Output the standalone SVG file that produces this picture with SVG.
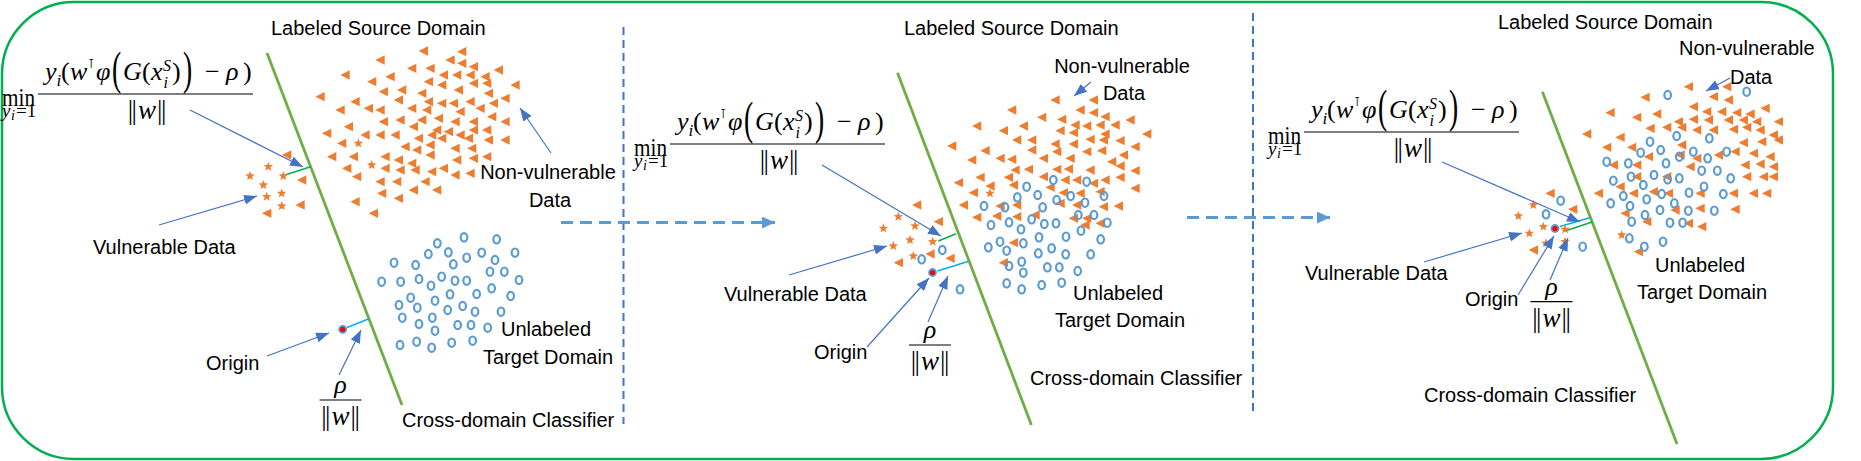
<svg xmlns="http://www.w3.org/2000/svg" xmlns:xlink="http://www.w3.org/1999/xlink" width="1861" height="461" viewBox="0 0 1861 461">
<style>
.lbl{font-family:"Liberation Sans",Arial,sans-serif;font-size:20px;fill:#000}
.m{font-family:"Liberation Serif","DejaVu Serif",serif;fill:#000}
.mi{font-family:"Liberation Serif","DejaVu Serif",serif;font-style:italic;fill:#000}
.clf{stroke:#70AD47;stroke-width:2.8;fill:none}
.gl{stroke:#00B050;stroke-width:1.5}
.cy{stroke:#00B0F0;stroke-width:1.5}
.org{fill:#FF0000;stroke:#5B9BD5;stroke-width:1.8}
.vd{stroke:#4472C4;stroke-width:2;stroke-dasharray:8 5;fill:none}
.da{stroke:#5B9BD5;stroke-width:3;stroke-dasharray:12 7;fill:none}
.ar{stroke:#4472C4;stroke-width:1.2;fill:none}
</style>
<defs>
<marker id="ah" markerWidth="13" markerHeight="10" refX="13" refY="5" orient="auto" markerUnits="userSpaceOnUse"><path d="M0,0 L13,5 L0,10 z" fill="#4472C4"/></marker>
<marker id="dh" markerWidth="13" markerHeight="12" refX="13" refY="6" orient="auto" markerUnits="userSpaceOnUse"><path d="M0,0 L13,6 L0,12 z" fill="#5B9BD5"/></marker>
<path id="t" d="M-14,0 L14,-14 L14,14 Z" fill="#ED7D31"/>
<path id="s" d="M0,-15 L3.7,-5.1 L14.3,-4.6 L6.1,2 L8.8,12.1 L0,6.4 L-8.8,12.1 L-6.1,2 L-14.3,-4.6 L-3.7,-5.1 Z" fill="#ED7D31"/>
<ellipse id="c" rx="10" ry="12.5" fill="none" stroke="#5B9BD5" stroke-width="6.5"/>
<g id="formula">
<text class="m" x="2" y="106" font-size="26" textLength="33" lengthAdjust="spacingAndGlyphs">min</text>
<text class="mi" x="2" y="117" font-size="19">y</text>
<text class="mi" x="11" y="120" font-size="14">i</text>
<text class="m" x="16" y="117" font-size="19">=1</text>
<text class="mi" x="45" y="80" font-size="26">y</text>
<text class="mi" x="56.5" y="86" font-size="17">i</text>
<text class="m" x="61" y="80" font-size="26">(</text>
<text class="mi" x="70" y="80" font-size="26">w</text>
<text x="88" y="68" font-size="13" font-family="DejaVu Sans, sans-serif">⊺</text>
<text class="mi" x="96" y="80" font-size="26">φ</text>
<text class="m" font-size="46" transform="translate(112 84) scale(0.6 1)">(</text>
<text class="mi" x="123" y="80" font-size="26">G</text>
<text class="m" x="142" y="80" font-size="26">(</text>
<text class="mi" x="151" y="80" font-size="26">x</text>
<text class="mi" x="163" y="71" font-size="16">S</text>
<text class="mi" x="163.5" y="88" font-size="16">i</text>
<text class="m" x="172" y="80" font-size="26">)</text>
<text class="m" font-size="46" transform="translate(183 84) scale(0.6 1)">)</text>
<text class="m" x="205" y="80" font-size="26">−</text>
<text class="mi" x="226" y="80" font-size="26">ρ</text>
<text class="m" x="243" y="80" font-size="26">)</text>
<line x1="38" y1="94" x2="253" y2="94" stroke="#000" stroke-width="1.2"/>
<text class="m" x="147" y="119" font-size="27" text-anchor="middle">|<tspan dx="-1.5">|</tspan><tspan class="mi" dx="1">w</tspan><tspan dx="1">|</tspan><tspan dx="-1.5">|</tspan></text>
</g>
<g id="rhofrac">
<text class="mi" x="0" y="-7" font-size="26" text-anchor="middle">ρ</text>
<line x1="-21" y1="0" x2="21" y2="0" stroke="#000" stroke-width="1.2"/>
<text class="m" x="0" y="25" font-size="27" text-anchor="middle">|<tspan dx="-1.5">|</tspan><tspan class="mi" dx="1">w</tspan><tspan dx="1">|</tspan><tspan dx="-1.5">|</tspan></text>
</g>
</defs>

<rect id="frame" x="2" y="2" width="1831" height="457" rx="72" ry="72" fill="#FFFFFF" stroke="#00B050" stroke-width="2.5"/>

<g id="separators">
<line class="vd" x1="623.5" y1="27" x2="623.5" y2="424"/>
<line class="vd" x1="1253" y1="13" x2="1253" y2="412"/>
</g>

<!-- Panel 1 -->
<g id="panel1">
<line id="p1-classifier" class="clf" x1="267" y1="53" x2="402" y2="405"/>
<line class="gl" x1="285" y1="175" x2="310.6" y2="166.7"/>
<line class="cy" x1="347" y1="327.5" x2="369" y2="318.7"/>
<g id="p1-source" transform="translate(240 50) scale(0.33333)">
<use href="#t" x="420" y="30"/><use href="#t" x="550" y="3"/><use href="#t" x="630" y="30"/><use href="#t" x="665" y="5"/><use href="#t" x="665" y="40"/>
<use href="#t" x="515" y="55"/><use href="#t" x="570" y="55"/><use href="#t" x="700" y="50"/><use href="#t" x="775" y="60"/><use href="#t" x="610" y="75"/><use href="#t" x="650" y="75"/><use href="#t" x="690" y="75"/><use href="#t" x="735" y="80"/>
<use href="#t" x="315" y="75"/><use href="#t" x="450" y="80"/><use href="#t" x="395" y="95"/><use href="#t" x="565" y="95"/><use href="#t" x="605" y="105"/><use href="#t" x="700" y="100"/><use href="#t" x="740" y="100"/><use href="#t" x="825" y="105"/>
<use href="#t" x="430" y="125"/><use href="#t" x="485" y="120"/><use href="#t" x="545" y="130"/><use href="#t" x="655" y="120"/><use href="#t" x="745" y="130"/>
<use href="#t" x="240" y="140"/><use href="#t" x="345" y="155"/><use href="#t" x="475" y="150"/><use href="#t" x="565" y="155"/><use href="#t" x="605" y="160"/><use href="#t" x="640" y="160"/><use href="#t" x="690" y="155"/><use href="#t" x="760" y="160"/><use href="#t" x="795" y="145"/>
<use href="#t" x="300" y="180"/><use href="#t" x="385" y="175"/><use href="#t" x="420" y="180"/><use href="#t" x="515" y="175"/><use href="#t" x="560" y="180"/><use href="#t" x="660" y="185"/><use href="#t" x="720" y="175"/><use href="#t" x="755" y="200"/>
<use href="#t" x="430" y="215"/><use href="#t" x="480" y="210"/><use href="#t" x="545" y="210"/><use href="#t" x="595" y="205"/><use href="#t" x="645" y="215"/><use href="#t" x="700" y="215"/><use href="#t" x="795" y="215"/>
<use href="#t" x="325" y="230"/><use href="#t" x="520" y="230"/><use href="#t" x="590" y="240"/><use href="#t" x="625" y="245"/><use href="#t" x="660" y="255"/><use href="#t" x="700" y="240"/><use href="#t" x="740" y="240"/>
<use href="#t" x="260" y="250"/><use href="#t" x="375" y="255"/><use href="#t" x="420" y="255"/><use href="#t" x="465" y="255"/><use href="#t" x="535" y="265"/><use href="#t" x="575" y="255"/><use href="#t" x="605" y="265"/><use href="#t" x="685" y="265"/><use href="#t" x="745" y="270"/><use href="#t" x="795" y="270"/>
<use href="#t" x="305" y="280"/><use href="#t" x="495" y="290"/><use href="#t" x="530" y="300"/><use href="#t" x="570" y="285"/><use href="#t" x="645" y="295"/><use href="#t" x="695" y="295"/>
<use href="#t" x="275" y="320"/><use href="#t" x="340" y="320"/><use href="#t" x="435" y="320"/><use href="#t" x="475" y="330"/><use href="#t" x="515" y="340"/><use href="#t" x="570" y="315"/><use href="#t" x="650" y="330"/><use href="#t" x="700" y="325"/><use href="#t" x="740" y="320"/>
<use href="#t" x="320" y="355"/><use href="#t" x="435" y="355"/><use href="#t" x="480" y="360"/><use href="#t" x="525" y="360"/><use href="#t" x="575" y="365"/><use href="#t" x="610" y="355"/><use href="#t" x="645" y="375"/><use href="#t" x="690" y="370"/>
<use href="#t" x="350" y="380"/><use href="#t" x="420" y="395"/><use href="#t" x="470" y="395"/><use href="#t" x="555" y="395"/>
<use href="#t" x="425" y="430"/><use href="#t" x="475" y="445"/><use href="#t" x="520" y="420"/><use href="#t" x="590" y="420"/>
<use href="#t" x="345" y="455"/><use href="#t" x="400" y="490"/>
<use href="#t" x="140" y="315"/><use href="#t" x="185" y="390"/><use href="#t" x="180" y="465"/><use href="#t" x="80" y="490"/>
<use href="#s" x="355" y="280"/><use href="#s" x="395" y="345"/>
<use href="#s" x="85" y="350"/><use href="#s" x="30" y="378"/><use href="#s" x="130" y="378"/><use href="#s" x="70" y="405"/><use href="#s" x="80" y="440"/><use href="#s" x="125" y="430"/><use href="#s" x="125" y="468"/>
</g>
<g id="p1-target" transform="translate(320 220) scale(0.33333)">
<use href="#c" x="222" y="128"/><use href="#c" x="287" y="135"/><use href="#c" x="325" y="102"/><use href="#c" x="352" y="70"/><use href="#c" x="385" y="97"/><use href="#c" x="432" y="52"/><use href="#c" x="440" y="113"/><use href="#c" x="400" y="133"/><use href="#c" x="485" y="98"/><use href="#c" x="530" y="58"/><use href="#c" x="525" y="120"/><use href="#c" x="585" y="98"/>
<use href="#c" x="185" y="185"/><use href="#c" x="242" y="185"/><use href="#c" x="297" y="177"/><use href="#c" x="333" y="197"/><use href="#c" x="365" y="170"/><use href="#c" x="405" y="182"/><use href="#c" x="440" y="182"/><use href="#c" x="510" y="155"/><use href="#c" x="553" y="155"/><use href="#c" x="597" y="180"/>
<use href="#c" x="272" y="233"/><use href="#c" x="237" y="255"/><use href="#c" x="292" y="263"/><use href="#c" x="345" y="242"/><use href="#c" x="390" y="223"/><use href="#c" x="470" y="222"/><use href="#c" x="515" y="205"/><use href="#c" x="572" y="228"/>
<use href="#c" x="247" y="293"/><use href="#c" x="297" y="312"/><use href="#c" x="337" y="293"/><use href="#c" x="383" y="270"/><use href="#c" x="428" y="258"/><use href="#c" x="465" y="275"/><use href="#c" x="543" y="275"/>
<use href="#c" x="345" y="332"/><use href="#c" x="413" y="315"/><use href="#c" x="453" y="315"/><use href="#c" x="503" y="323"/>
<use href="#c" x="240" y="375"/><use href="#c" x="290" y="365"/><use href="#c" x="335" y="383"/><use href="#c" x="395" y="368"/><use href="#c" x="458" y="362"/>
</g>
<circle id="p1-origin" class="org" cx="342.7" cy="329.3" r="3.5"/>
<use id="p1-formula" href="#formula"/>
<use id="p1-rho" href="#rhofrac" x="340.5" y="400"/>
<text class="lbl" x="271" y="35">Labeled Source Domain</text>
<text class="lbl" x="548" y="179" text-anchor="middle">Non-vulnerable</text>
<text class="lbl" x="550" y="207" text-anchor="middle">Data</text>
<text class="lbl" x="93" y="254">Vulnerable Data</text>
<text class="lbl" x="206" y="370">Origin</text>
<text class="lbl" x="546" y="336" text-anchor="middle">Unlabeled</text>
<text class="lbl" x="548" y="364" text-anchor="middle">Target Domain</text>
<text class="lbl" x="402" y="427">Cross-domain Classifier</text>
</g>

<!-- Panel 2 -->
<g id="panel2">
<line id="p2-classifier" class="clf" x1="897.5" y1="72.7" x2="1031.4" y2="425"/>
<line class="gl" x1="938.3" y1="241" x2="956" y2="233.7"/>
<line class="cy" x1="937.3" y1="271" x2="968" y2="261.5"/>
<g id="p2-points" transform="translate(860 90) scale(0.33333)">
<use href="#t" x="585" y="30"/><use href="#t" x="700" y="30"/><use href="#t" x="455" y="60"/><use href="#t" x="660" y="60"/><use href="#t" x="700" y="68"/><use href="#t" x="735" y="80"/><use href="#t" x="545" y="82"/><use href="#t" x="605" y="88"/><use href="#t" x="810" y="90"/>
<use href="#t" x="350" y="108"/><use href="#t" x="490" y="108"/><use href="#t" x="645" y="105"/><use href="#t" x="680" y="108"/><use href="#t" x="720" y="105"/><use href="#t" x="765" y="105"/><use href="#t" x="430" y="122"/><use href="#t" x="600" y="122"/><use href="#t" x="640" y="128"/><use href="#t" x="735" y="132"/><use href="#t" x="860" y="132"/>
<use href="#t" x="470" y="150"/><use href="#t" x="515" y="150"/><use href="#t" x="690" y="148"/><use href="#t" x="730" y="150"/><use href="#t" x="780" y="152"/><use href="#t" x="275" y="168"/><use href="#t" x="585" y="162"/><use href="#t" x="640" y="162"/><use href="#t" x="825" y="170"/>
<use href="#t" x="375" y="182"/><use href="#t" x="515" y="180"/><use href="#t" x="590" y="185"/><use href="#t" x="680" y="185"/><use href="#t" x="725" y="182"/><use href="#t" x="790" y="195"/><use href="#t" x="335" y="210"/><use href="#t" x="420" y="205"/><use href="#t" x="455" y="208"/><use href="#t" x="550" y="205"/><use href="#t" x="630" y="205"/><use href="#t" x="755" y="215"/><use href="#t" x="780" y="228"/>
<use href="#t" x="465" y="240"/><use href="#t" x="505" y="238"/><use href="#t" x="590" y="238"/><use href="#t" x="625" y="237"/><use href="#t" x="690" y="240"/><use href="#t" x="825" y="242"/><use href="#t" x="360" y="262"/><use href="#t" x="445" y="262"/><use href="#t" x="550" y="260"/><use href="#t" x="615" y="270"/><use href="#t" x="650" y="270"/><use href="#t" x="735" y="270"/><use href="#t" x="780" y="262"/>
<use href="#t" x="295" y="278"/><use href="#t" x="390" y="288"/><use href="#t" x="460" y="285"/><use href="#t" x="570" y="292"/><use href="#t" x="700" y="280"/><use href="#t" x="825" y="295"/><use href="#t" x="340" y="308"/><use href="#t" x="610" y="308"/><use href="#t" x="660" y="310"/><use href="#t" x="720" y="305"/>
<use href="#t" x="310" y="345"/><use href="#t" x="420" y="348"/><use href="#t" x="470" y="345"/><use href="#t" x="600" y="340"/><use href="#t" x="650" y="345"/><use href="#t" x="730" y="350"/><use href="#t" x="775" y="348"/>
<use href="#t" x="350" y="382"/><use href="#t" x="410" y="378"/><use href="#t" x="470" y="380"/><use href="#t" x="525" y="375"/><use href="#t" x="640" y="385"/><use href="#t" x="680" y="385"/><use href="#t" x="720" y="400"/><use href="#t" x="675" y="405"/>
<use href="#t" x="460" y="458"/><use href="#t" x="430" y="518"/>
<use href="#t" x="170" y="345"/><use href="#t" x="235" y="395"/><use href="#t" x="210" y="492"/><use href="#t" x="270" y="505"/><use href="#t" x="115" y="518"/>
<use href="#s" x="115" y="380"/><use href="#s" x="165" y="408"/><use href="#s" x="70" y="415"/><use href="#s" x="150" y="450"/><use href="#s" x="100" y="468"/><use href="#s" x="218" y="455"/><use href="#s" x="160" y="498"/><use href="#s" x="390" y="310"/>
<use href="#c" x="580" y="270"/><use href="#c" x="680" y="275"/><use href="#c" x="500" y="290"/><use href="#c" x="472" y="322"/><use href="#c" x="533" y="315"/><use href="#c" x="590" y="330"/><use href="#c" x="632" y="318"/><use href="#c" x="675" y="338"/><use href="#c" x="732" y="318"/>
<use href="#c" x="372" y="348"/><use href="#c" x="435" y="352"/><use href="#c" x="548" y="352"/><use href="#c" x="655" y="375"/><use href="#c" x="702" y="375"/><use href="#c" x="393" y="405"/><use href="#c" x="447" y="397"/><use href="#c" x="483" y="418"/><use href="#c" x="515" y="388"/><use href="#c" x="553" y="402"/><use href="#c" x="588" y="400"/><use href="#c" x="663" y="422"/><use href="#c" x="742" y="398"/>
<use href="#c" x="385" y="472"/><use href="#c" x="420" y="455"/><use href="#c" x="440" y="482"/><use href="#c" x="490" y="460"/><use href="#c" x="537" y="442"/><use href="#c" x="575" y="475"/><use href="#c" x="618" y="440"/><use href="#c" x="722" y="448"/>
<use href="#c" x="447" y="528"/><use href="#c" x="485" y="515"/><use href="#c" x="535" y="490"/><use href="#c" x="562" y="532"/><use href="#c" x="598" y="532"/><use href="#c" x="617" y="493"/><use href="#c" x="653" y="543"/><use href="#c" x="692" y="493"/><use href="#c" x="490" y="548"/>
<use href="#c" x="247" y="480"/><use href="#c" x="185" y="508"/><use href="#c" x="440" y="580"/><use href="#c" x="485" y="598"/><use href="#c" x="545" y="585"/><use href="#c" x="605" y="578"/><use href="#c" x="300" y="598"/>
</g>
<circle id="p2-origin" class="org" cx="932.5" cy="272.5" r="3.5"/>
<use id="p2-formula" href="#formula" transform="translate(632 50)"/>
<use id="p2-rho" href="#rhofrac" x="930" y="345"/>
<text class="lbl" x="904" y="35">Labeled Source Domain</text>
<text class="lbl" x="1122" y="73" text-anchor="middle">Non-vulnerable</text>
<text class="lbl" x="1124" y="100" text-anchor="middle">Data</text>
<text class="lbl" x="724" y="301">Vulnerable Data</text>
<text class="lbl" x="814" y="359">Origin</text>
<text class="lbl" x="1118" y="300" text-anchor="middle">Unlabeled</text>
<text class="lbl" x="1120" y="327" text-anchor="middle">Target Domain</text>
<text class="lbl" x="1030" y="385">Cross-domain Classifier</text>
</g>

<!-- Panel 3 -->
<g id="panel3">
<line id="p3-classifier" class="clf" x1="1542.4" y1="91.7" x2="1677" y2="444"/>
<line class="cy" x1="1560" y1="226.5" x2="1590.5" y2="217.5"/>
<line class="gl" x1="1565" y1="231" x2="1592.2" y2="222"/>
<g id="p3-points" transform="translate(1480 40) scale(0.33333)">
<use href="#t" x="625" y="140"/><use href="#t" x="740" y="140"/><use href="#t" x="495" y="172"/><use href="#t" x="700" y="170"/><use href="#t" x="745" y="180"/>
<use href="#t" x="390" y="218"/><use href="#t" x="530" y="222"/><use href="#t" x="640" y="200"/><use href="#t" x="680" y="215"/><use href="#t" x="725" y="215"/><use href="#t" x="770" y="218"/><use href="#t" x="810" y="222"/><use href="#t" x="855" y="205"/>
<use href="#t" x="470" y="232"/><use href="#t" x="595" y="245"/><use href="#t" x="640" y="238"/><use href="#t" x="685" y="240"/><use href="#t" x="745" y="240"/><use href="#t" x="790" y="240"/><use href="#t" x="830" y="245"/><use href="#t" x="895" y="245"/>
<use href="#t" x="320" y="282"/><use href="#t" x="420" y="292"/><use href="#t" x="510" y="265"/><use href="#t" x="560" y="262"/><use href="#t" x="605" y="262"/><use href="#t" x="650" y="270"/><use href="#t" x="700" y="270"/><use href="#t" x="760" y="268"/><use href="#t" x="800" y="262"/><use href="#t" x="840" y="270"/><use href="#t" x="880" y="285"/>
<use href="#t" x="380" y="322"/><use href="#t" x="455" y="322"/><use href="#t" x="605" y="315"/><use href="#t" x="790" y="308"/><use href="#t" x="845" y="305"/><use href="#t" x="895" y="300"/>
<use href="#t" x="505" y="350"/><use href="#t" x="600" y="345"/><use href="#t" x="650" y="355"/><use href="#t" x="715" y="345"/><use href="#t" x="765" y="335"/><use href="#t" x="820" y="340"/><use href="#t" x="870" y="350"/>
<use href="#t" x="400" y="375"/><use href="#t" x="470" y="375"/><use href="#t" x="630" y="380"/><use href="#t" x="795" y="375"/><use href="#t" x="840" y="372"/><use href="#t" x="880" y="380"/>
<use href="#t" x="355" y="460"/><use href="#t" x="470" y="410"/><use href="#t" x="560" y="410"/><use href="#t" x="800" y="410"/><use href="#t" x="850" y="410"/><use href="#t" x="880" y="410"/>
<use href="#t" x="420" y="440"/><use href="#t" x="460" y="460"/><use href="#t" x="520" y="455"/><use href="#t" x="565" y="460"/><use href="#t" x="660" y="460"/><use href="#t" x="760" y="460"/><use href="#t" x="820" y="460"/><use href="#t" x="860" y="460"/>
<use href="#t" x="435" y="520"/><use href="#t" x="585" y="510"/><use href="#t" x="660" y="505"/><use href="#t" x="765" y="508"/><use href="#t" x="500" y="545"/><use href="#t" x="625" y="550"/>
<use href="#t" x="210" y="460"/><use href="#t" x="278" y="508"/><use href="#t" x="160" y="630"/><use href="#t" x="475" y="635"/><use href="#t" x="665" y="560"/>
<use href="#s" x="115" y="528"/><use href="#s" x="160" y="495"/><use href="#s" x="148" y="580"/><use href="#s" x="190" y="560"/><use href="#s" x="255" y="568"/><use href="#s" x="255" y="605"/><use href="#s" x="198" y="610"/><use href="#s" x="425" y="585"/>
<use href="#c" x="563" y="165"/><use href="#c" x="800" y="155"/><use href="#c" x="510" y="305"/><use href="#c" x="590" y="288"/><use href="#c" x="688" y="295"/><use href="#c" x="482" y="338"/><use href="#c" x="542" y="330"/><use href="#c" x="598" y="350"/><use href="#c" x="640" y="335"/><use href="#c" x="683" y="355"/><use href="#c" x="740" y="335"/>
<use href="#c" x="380" y="365"/><use href="#c" x="445" y="370"/><use href="#c" x="558" y="370"/><use href="#c" x="665" y="392"/><use href="#c" x="712" y="392"/><use href="#c" x="400" y="422"/><use href="#c" x="453" y="410"/><use href="#c" x="490" y="435"/><use href="#c" x="522" y="405"/><use href="#c" x="563" y="418"/><use href="#c" x="598" y="415"/><use href="#c" x="627" y="458"/><use href="#c" x="672" y="440"/><use href="#c" x="752" y="415"/><use href="#c" x="730" y="462"/>
<use href="#c" x="392" y="490"/><use href="#c" x="430" y="468"/><use href="#c" x="450" y="498"/><use href="#c" x="500" y="478"/><use href="#c" x="545" y="462"/><use href="#c" x="583" y="490"/><use href="#c" x="540" y="510"/><use href="#c" x="625" y="512"/><use href="#c" x="703" y="512"/><use href="#c" x="455" y="545"/><use href="#c" x="495" y="525"/><use href="#c" x="570" y="548"/><use href="#c" x="608" y="548"/><use href="#c" x="448" y="595"/><use href="#c" x="493" y="620"/><use href="#c" x="549" y="605"/>
<use href="#c" x="242" y="482"/><use href="#c" x="198" y="523"/><use href="#c" x="308" y="620"/>
</g>
<circle id="p3-origin" class="org" cx="1555" cy="228.5" r="3.5"/>
<use id="p3-formula" href="#formula" transform="translate(1266 38)"/>
<use id="p3-rho" href="#rhofrac" x="1551.5" y="301.7"/>
<text class="lbl" x="1498" y="29">Labeled Source Domain</text>
<text class="lbl" x="1679" y="55">Non-vulnerable</text>
<text class="lbl" x="1730" y="84">Data</text>
<text class="lbl" x="1305" y="280">Vulnerable Data</text>
<text class="lbl" x="1465" y="306">Origin</text>
<text class="lbl" x="1700" y="272" text-anchor="middle">Unlabeled</text>
<text class="lbl" x="1702" y="299" text-anchor="middle">Target Domain</text>
<text class="lbl" x="1424" y="402">Cross-domain Classifier</text>
</g>

<g id="connectors">
<line class="da" x1="561" y1="222.5" x2="775" y2="222.5" marker-end="url(#dh)"/>
<line class="da" x1="1187" y1="217.5" x2="1330" y2="217.5" marker-end="url(#dh)"/>
<g class="ar" marker-end="url(#ah)">
<line x1="190" y1="110" x2="303" y2="167"/>
<line x1="159" y1="225" x2="257" y2="196"/>
<line x1="551" y1="153" x2="520" y2="108"/>
<line x1="267" y1="356" x2="329" y2="333"/>
<line x1="339" y1="375" x2="361" y2="330"/>
<line x1="822" y1="165" x2="941" y2="236"/>
<line x1="789" y1="275" x2="887" y2="246"/>
<line x1="867" y1="347" x2="929" y2="278"/>
<line x1="928" y1="322" x2="948" y2="276"/>
<line x1="1091" y1="82" x2="1074" y2="96"/>
<line x1="1442" y1="162" x2="1580" y2="222"/>
<line x1="1424" y1="262" x2="1522" y2="233"/>
<line x1="1518" y1="295" x2="1554" y2="236"/>
<line x1="1550" y1="280" x2="1568" y2="238"/>
<line x1="1730" y1="78" x2="1706" y2="91"/>
</g>
</g>
</svg>
